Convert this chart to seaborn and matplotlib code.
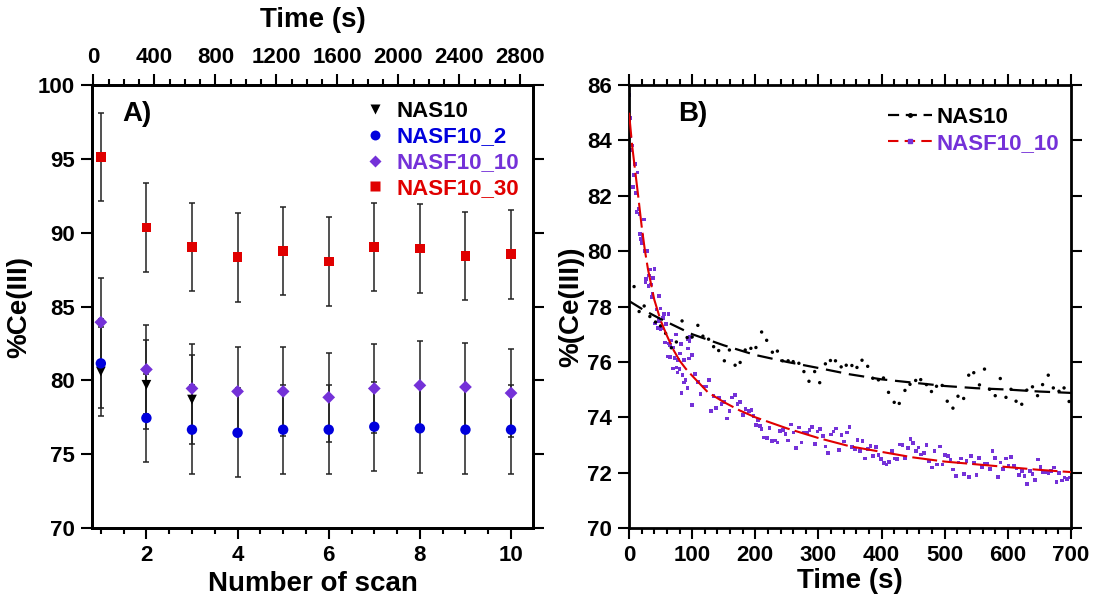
import matplotlib
matplotlib.use("Agg")
import matplotlib.pyplot as plt
from matplotlib.lines import Line2D
from matplotlib.ticker import MultipleLocator
import pandas as pd
import seaborn as sns

sns.set_style("ticks")
plt.rcParams['font.family'] = ['Liberation Sans', 'DejaVu Sans']
plt.rcParams['font.weight'] = 'bold'
plt.rcParams['axes.labelweight'] = 'bold'
for key in ['text.color', 'axes.labelcolor', 'xtick.color', 'ytick.color', 'axes.edgecolor']:
    plt.rcParams[key] = 'black'

PURPLE = '#7431D8'
BLUE = '#0000DD'
RED = '#E00000'

# ---- panel A: %Ce(III) per scan ----
scans = [1, 2, 3, 4, 5, 6, 7, 8, 9, 10]
nas10_scans = [1, 2, 3]
nas10 = [80.6, 79.7, 78.7]
nasf10_2 = [81.15, 77.45, 76.66, 76.45, 76.66, 76.66, 76.86, 76.75, 76.66, 76.66]
nasf10_10 = [83.94, 80.74, 79.45, 79.25, 79.25, 78.85, 79.45, 79.66, 79.55, 79.14]
nasf10_30 = [95.13, 90.35, 89.04, 88.34, 88.75, 88.05, 89.04, 88.93, 88.43, 88.54]
err_a = 3.0

# ---- panel B: %(Ce(III)) vs time ----
nas10_t = [0, 8, 16, 24, 33, 42, 50, 58, 67, 75, 84, 92, 100, 109, 117, 126, 134, 142,
           151, 159, 168, 176, 184, 193, 201, 210, 218, 227, 235, 243, 252, 260, 269,
           277, 285, 294, 302, 311, 319, 327, 336, 344, 353, 361, 369, 378, 386, 395,
           403, 411, 420, 428, 437, 445, 454, 462, 471, 479, 487, 496, 504, 513, 521,
           530, 538, 546, 555, 563, 571, 580, 588, 597, 605, 613, 622, 630, 639, 647,
           655, 664, 672, 681, 689, 697]
nas10_v = [78.92, 78.72, 77.82, 78.02, 77.64, 77.44, 77.30, 77.03, 76.51, 76.72, 77.48,
           76.88, 76.90, 77.32, 76.93, 76.82, 76.55, 76.41, 76.04, 76.43, 75.88, 75.98,
           76.43, 76.49, 76.52, 77.08, 76.78, 76.35, 76.39, 76.04, 76.04, 76.01, 75.95,
           75.65, 75.30, 75.65, 75.25, 75.93, 76.05, 76.04, 75.82, 75.88, 75.87, 75.80,
           76.06, 75.84, 75.41, 75.35, 75.42, 74.90, 74.54, 74.50, 74.97, 75.19, 75.33,
           75.36, 75.18, 74.93, 75.12, 75.15, 74.58, 74.33, 74.76, 74.68, 75.52, 75.61,
           75.17, 75.74, 75.01, 74.78, 75.40, 74.72, 75.01, 74.58, 74.47, 74.98, 75.10,
           74.78, 75.18, 75.52, 75.06, 74.94, 75.06, 74.57]

nasf_t = [0, 1.1, 2.6, 5.3, 3.7, 9.0, 13.2, 7.9, 6.3, 10.6, 14.8, 12.1, 16.4, 23.2, 17.4,
          21.6, 19.0, 20.1, 24.3, 29.0, 32.7, 40.1, 31.7, 38.5, 26.9, 25.9, 34.3, 30.6,
          37.0, 35.4, 47.0, 43.3, 49.6, 62.3, 54.9, 46.5, 53.3, 41.2, 48.0, 58.1, 44.9,
          51.7, 49.6, 67.1, 74.4, 81.8, 56.5, 62.8, 64.9, 70.2, 96.6, 92.4, 95.6, 93.5,
          60.7, 64.9, 71.8, 80.8, 99.8, 95.0, 87.1, 78.1, 69.7, 75.0, 79.7, 76.6, 84.5,
          104.0, 89.2, 87.6, 92.4, 82.9, 109.3, 118.8, 122.0, 126.2, 113.0, 99.8, 133.6,
          142.0, 146.3, 150.5, 163.2, 167.4, 129.9, 137.8, 158.9, 154.7, 171.6, 175.8,
          180.0, 184.3, 190.1, 193.8, 196.9, 200.6, 204.3, 207.5, 209.6, 213.8, 218.1,
          222.3, 226.5, 230.7, 235.0, 239.2, 243.4, 247.6, 251.9, 256.1, 260.3, 264.5,
          268.8, 273.0, 277.2, 281.4, 285.6, 289.9, 294.1, 298.3, 302.5, 306.8, 311.0,
          315.2, 319.4, 323.7, 327.9, 332.1, 336.3, 340.6, 344.8, 349.0, 353.2, 357.5,
          361.7, 365.9, 369.6, 373.8, 378.0, 382.3, 386.5, 390.7, 394.9, 399.2, 403.4,
          407.6, 411.8, 416.1, 420.3, 424.5, 428.7, 433.0, 437.2, 441.4, 445.6, 449.9,
          454.1, 458.3, 462.5, 466.8, 471.0, 475.2, 479.4, 483.6, 487.9, 492.1, 496.3,
          500.5, 504.8, 509.0, 513.2, 517.4, 521.7, 525.9, 530.1, 534.3, 538.6, 541.7,
          545.9, 550.2, 554.4, 558.6, 562.8, 567.1, 571.3, 575.5, 579.7, 584.0, 588.2,
          592.4, 596.6, 600.9, 605.1, 609.3, 613.5, 617.8, 622.0, 626.2, 630.4, 634.7,
          638.9, 643.1, 647.3, 651.6, 655.8, 660.0, 664.2, 668.5, 672.7, 676.9, 681.1,
          685.4, 689.6, 693.8, 698.0]
nasf_v = [85.63, 84.80, 84.14, 83.82, 83.65, 83.15, 82.84, 82.76, 82.31, 82.11, 81.52,
          81.42, 81.33, 81.14, 80.63, 80.54, 80.45, 80.30, 80.01, 80.01, 79.34, 79.35,
          79.12, 79.03, 78.99, 78.87, 78.79, 78.75, 78.45, 78.34, 78.37, 77.89, 77.93,
          77.72, 77.72, 77.57, 77.58, 77.39, 77.46, 77.36, 77.23, 77.21, 77.18, 76.77,
          76.99, 76.65, 76.70, 76.66, 76.62, 76.52, 76.91, 76.82, 76.76, 76.48, 76.20,
          76.18, 76.15, 76.30, 76.24, 76.12, 76.08, 76.08, 75.76, 75.80, 75.74, 75.62,
          75.53, 75.56, 75.35, 75.26, 75.06, 74.87, 75.27, 75.11, 75.11, 75.34, 74.84,
          74.44, 74.78, 74.72, 74.49, 74.55, 74.72, 74.81, 74.22, 74.33, 74.23, 73.96,
          74.48, 74.56, 74.09, 74.29, 74.23, 74.26, 74.05, 73.73, 73.90, 73.69, 73.57,
          73.27, 73.25, 73.61, 73.14, 73.16, 73.09, 73.51, 73.55, 73.40, 73.16, 73.74,
          73.45, 72.88, 73.63, 73.09, 73.45, 73.45, 73.55, 73.66, 73.04, 73.49, 73.58,
          73.33, 72.95, 72.71, 73.38, 73.49, 73.60, 72.81, 73.37, 73.13, 73.45, 73.66,
          72.92, 72.85, 73.19, 72.79, 73.15, 72.51, 72.85, 72.97, 72.61, 72.92, 72.63,
          72.49, 72.35, 72.29, 72.38, 72.78, 72.51, 72.49, 73.02, 73.01, 72.53, 72.89,
          73.21, 73.07, 72.79, 72.91, 72.66, 72.70, 73.00, 72.41, 72.19, 72.79, 72.30,
          72.95, 72.30, 72.63, 72.59, 72.48, 72.11, 71.88, 72.37, 72.51, 71.95, 72.41,
          71.84, 72.59, 72.35, 71.91, 72.53, 72.20, 72.33, 72.31, 72.13, 72.79, 72.53,
          71.85, 72.37, 72.12, 72.51, 72.23, 72.56, 72.26, 72.15, 71.91, 72.05, 71.89,
          71.60, 72.07, 71.95, 71.74, 72.48, 72.20, 72.03, 72.01, 71.98, 72.06, 72.18,
          71.66, 71.98, 71.72, 71.83, 71.77, 71.83]

fit_nas10_t = [0, 25, 50, 100, 150, 200, 250, 300, 350, 400, 450, 500, 550, 600, 650, 700]
fit_nas10_v = [78.2, 77.85, 77.55, 77.0, 76.6, 76.25, 76.0, 75.78, 75.55, 75.37, 75.25,
               75.13, 75.05, 75.0, 74.93, 74.88]
fit_nasf_t = [0, 5, 10, 15, 20, 25, 30, 35, 40, 50, 60, 70, 80, 90, 100, 125, 150, 175,
              200, 250, 300, 350, 400, 450, 500, 550, 600, 650, 700]
fit_nasf_v = [85.0, 83.8, 82.85, 81.9, 80.9, 80.05, 79.35, 78.8, 78.25, 77.5, 76.95,
              76.45, 76.05, 75.75, 75.5, 74.9, 74.55, 74.25, 74.0, 73.6, 73.25, 72.95,
              72.75, 72.55, 72.4, 72.3, 72.2, 72.1, 72.02]

fig = plt.figure(figsize=(10.97, 6.04), dpi=100)
ax1 = fig.add_axes([0.0836, 0.1258, 0.4026, 0.7334])
ax2 = fig.add_axes([0.5734, 0.1258, 0.4029, 0.7334])

TICK = 16
LAB = 20


def style_axis(ax):
    for s in ax.spines.values():
        s.set_linewidth(2)
        s.set_color('black')
    ax.tick_params(which='major', direction='out', length=8, width=1.5, labelsize=TICK,
                   color='black', labelcolor='black', pad=4)
    ax.tick_params(which='minor', direction='out', length=4, width=1.5, color='black')
    for lab in ax.get_xticklabels() + ax.get_yticklabels():
        lab.set_fontweight('bold')


# panel A
series = [
    ("NAS10", nas10_scans, nas10, 'v', 'black', 7),
    ("NASF10_2", scans, nasf10_2, 'o', BLUE, 7.5),
    ("NASF10_10", scans, nasf10_10, 'D', PURPLE, 6.5),
    ("NASF10_30", scans, nasf10_30, 's', RED, 7),
]
for name, xs, ys, mk, col, ms in series:
    ax1.errorbar(xs, ys, yerr=err_a, fmt='none', ecolor='#222222', elinewidth=1.1,
                 capsize=2.5, capthick=1.1, zorder=2)
handles_a = []
for name, xs, ys, mk, col, ms in series:
    df = pd.DataFrame({'scan': xs, 'ce': ys})
    sns.scatterplot(data=df, x='scan', y='ce', marker=mk, color=col, s=ms ** 2,
                    edgecolor='none', ax=ax1, zorder=3)
    handles_a.append(Line2D([], [], ls='none', marker=mk, color=col, ms=ms * 0.95,
                            mec='none'))

ax1.set_xlim(0.8, 10.49)
ax1.set_ylim(70, 100)
ax1.xaxis.set_major_locator(MultipleLocator(2))
ax1.xaxis.set_minor_locator(MultipleLocator(0.5))
ax1.yaxis.set_major_locator(MultipleLocator(5))
ax1.tick_params(right=True, labelright=False)
style_axis(ax1)
ax1.set_xlabel("Number of scan", fontsize=LAB, fontweight='bold', labelpad=4)
ax1.set_ylabel("%Ce(III)", fontsize=LAB, fontweight='bold', labelpad=4)
ax1.text(0.07, 0.935, "A)", transform=ax1.transAxes, fontsize=20, fontweight='bold',
         va='center', ha='left')
ax1.legend(handles_a, [s[0] for s in series], loc='upper left',
           bbox_to_anchor=(0.575, 1.0), frameon=False, fontsize=16,
           labelcolor=[s[4] for s in series], handletextpad=0.4,
           labelspacing=0.22, handlelength=1.2, borderaxespad=0.3)

ax1t = ax1.twiny()
ax1t.set_xlim(-10.5, 2885)
ax1t.xaxis.set_major_locator(MultipleLocator(400))
ax1t.xaxis.set_minor_locator(MultipleLocator(100))
style_axis(ax1t)
ax1t.set_xlabel("Time (s)", fontsize=LAB, fontweight='bold', labelpad=15)

# panel B
df_nas = pd.DataFrame({'t': nas10_t, 'v': nas10_v})
df_nasf = pd.DataFrame({'t': nasf_t, 'v': nasf_v})
sns.scatterplot(data=df_nas, x='t', y='v', marker='o', color='black', s=6,
                edgecolor='none', ax=ax2, zorder=3)
sns.scatterplot(data=df_nasf, x='t', y='v', marker='s', color=PURPLE, s=7,
                edgecolor='none', ax=ax2, zorder=2)
sns.lineplot(x=fit_nas10_t, y=fit_nas10_v, color='black', lw=1.6, ax=ax2, zorder=4)
ax2.lines[-1].set_dashes((7, 3.5))
sns.lineplot(x=fit_nasf_t, y=fit_nasf_v, color=RED, lw=1.5, ax=ax2, zorder=4)
ax2.lines[-1].set_dashes((12, 2.5))

ax2.set_xlim(0, 700)
ax2.set_ylim(70, 86)
ax2.xaxis.set_major_locator(MultipleLocator(100))
ax2.xaxis.set_minor_locator(MultipleLocator(20))
ax2.yaxis.set_major_locator(MultipleLocator(2))
ax2.tick_params(which='both', top=True, right=True, labeltop=False, labelright=False)
style_axis(ax2)
ax2.set_xlabel("Time (s)", fontsize=LAB, fontweight='bold', labelpad=2)
ax2.set_ylabel("%(Ce(III))", fontsize=LAB, fontweight='bold', labelpad=2)
ax2.text(0.11, 0.935, "B)", transform=ax2.transAxes, fontsize=20, fontweight='bold',
         va='center', ha='left')

h_nas = Line2D([], [], color='black', lw=1.6, dashes=(5, 3), marker='o', ms=2.5,
               mfc='black', mec='black')
h_nasf = Line2D([], [], color=RED, lw=1.5, dashes=(5, 3), marker='s', ms=3,
                mfc=PURPLE, mec=PURPLE)
ax2.legend([h_nas, h_nasf], ["NAS10", "NASF10_10"], loc='upper left',
           bbox_to_anchor=(0.54, 0.995), frameon=False, fontsize=16,
           labelcolor=['black', PURPLE], handletextpad=0.2, labelspacing=0.2,
           handlelength=2.0)

fig.savefig("out.png", dpi=100)
